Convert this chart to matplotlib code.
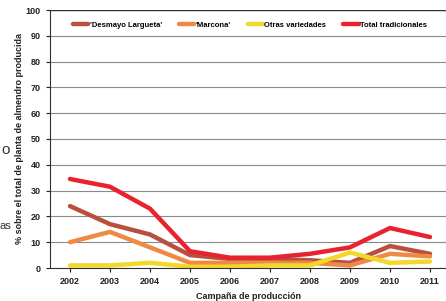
import matplotlib
matplotlib.use("Agg")
import matplotlib.pyplot as plt

years = [2002, 2003, 2004, 2005, 2006, 2007, 2008, 2009, 2010, 2011]
desmayo = [24, 17, 13, 5, 3.5, 3.5, 3, 2, 8.5, 5.5]
marcona = [10, 14, 8, 2, 2, 2, 2, 1, 5.5, 4.5]
otras = [1, 1, 2, 0.5, 0.5, 1, 1, 6, 2, 2.5]
total = [34.5, 31.5, 23, 6.5, 4, 4, 5.5, 8, 15.5, 12]
labels = ["'Desmayo Largueta'", "'Marcona'", "Otras variedades", "Total tradicionales"]
colors = ["#b9503e", "#ef8a45", "#f2d82a", "#e8232f"]

plt.rcParams['font.family'] = ['Liberation Sans', 'DejaVu Sans']
fig = plt.figure(figsize=(4.46, 3.01), dpi=100)
ax = fig.add_axes([50/446, 1-268/301, 1-50/446, (268-10)/301])

for s, lab, c in zip([desmayo, marcona, otras, total], labels, colors):
    ax.plot(years, s, color=c, lw=3.2, label=lab, solid_joinstyle='round', solid_capstyle='round')

ax.set_xlim(2001.5, 2011.4)
ax.set_ylim(0, 100)
ax.set_yticks(range(0, 101, 10))
ax.set_xticks(years)
ax.tick_params(axis='both', labelsize=6.5, length=3, width=0.8, colors='#222222')
for t in ax.get_xticklabels() + ax.get_yticklabels():
    t.set_fontweight('bold')
ax.grid(axis='y', color='#8a8a8a', lw=0.8)
ax.set_axisbelow(True)
for sp in ['top', 'right']:
    ax.spines[sp].set_visible(False)
ax.spines['left'].set_color('#333333')
ax.spines['bottom'].set_color('#333333')
ax.axhline(100, color='#333333', lw=1)

ax.set_xlabel('Campaña de producción', fontsize=6.5, fontweight='bold', labelpad=4, color='#222222')
ax.set_ylabel('% sobre el total de planta de almendro producida', fontsize=6.5,
              fontweight='bold', labelpad=1.5, color='#222222')

ax.legend(loc='center', bbox_to_anchor=(0.505, 0.94), ncol=4, frameon=False,
          handlelength=2.0, handletextpad=0.2, columnspacing=2.2,
          prop={'weight': 'bold', 'size': 5.5})

fig.text(0.002, 0.5, 'o', fontsize=11, color='#333333', va='center', ha='left')
fig.text(0.0, 0.25, 'as', fontsize=8, color='#333333', va='center', ha='left')

fig.savefig('out.png', dpi=100)
